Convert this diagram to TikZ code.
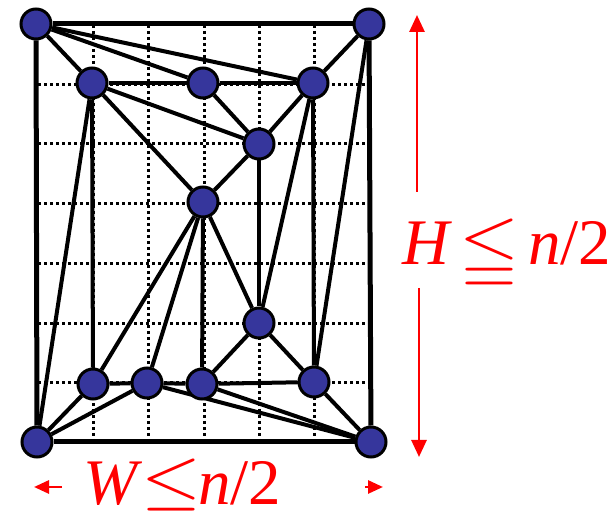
\documentclass[tikz,border=0pt]{standalone}
\usepackage{fontspec}
\newfontfamily\boundfont{Liberation Serif}
\usepackage{amssymb}
\usepackage{graphicx}
\usetikzlibrary{arrows.meta, backgrounds}
\definecolor{vblue}{RGB}{54,54,156}
\tikzset{
  vertex/.style={circle, draw=black, line width=3pt, fill=vblue, minimum size=30pt, inner sep=0pt},
  gridline/.style={line width=3pt, dash pattern=on 3pt off 3pt, draw=black},
  boxedge/.style={line width=5pt, draw=black},
  edge/.style={line width=4pt, draw=black},
  redarr/.style={-{Triangle[length=17pt, width=15pt]}, line width=2.8pt, draw=red},
  smallarr/.style={-{Triangle[length=15pt, width=13pt]}, line width=2.8pt, draw=red},
  bound/.style={text=red, font=\boundfont\fontsize{65}{78}\selectfont, inner sep=0pt, anchor=base west},
}
\newcommand{\lowleqq}{\makebox[35pt][c]{\raisebox{-8pt}{\resizebox*{60pt}{72pt}{$\leqq$}}}}

\begin{document}
\begin{tikzpicture}[x=1pt, y=-1pt]
  \useasboundingbox (0,0) rectangle (614,518);

  % vertices
  \node[vertex] (tl) at (36,24) {};
  \node[vertex] (tr) at (369,24) {};
  \node[vertex] (bl) at (37,442) {};
  \node[vertex] (br) at (371,442) {};
  \node[vertex] (a1) at (92,83) {};
  \node[vertex] (a2) at (203,83) {};
  \node[vertex] (a3) at (313,83) {};
  \node[vertex] (b1) at (259,144) {};
  \node[vertex] (c1) at (203,202) {};
  \node[vertex] (d1) at (259,323) {};
  \node[vertex] (e1) at (93,384) {};
  \node[vertex] (e2) at (147,383) {};
  \node[vertex] (e3) at (202,384) {};
  \node[vertex] (e4) at (314,382) {};

  \begin{scope}[on background layer]
    % dotted grid
    \foreach \gx in {93,148,204,259,314}
      \draw[gridline] (\gx,25) -- (\gx,443);
    \foreach \gy in {85,144,204,264,324,383}
      \draw[gridline] (38,\gy) -- (369,\gy);

    % outer box
    \draw[boxedge] (tl) -- (tr);
    \draw[boxedge] (tl) -- (bl);
    \draw[boxedge] (tr) -- (br);
    \draw[boxedge] (bl) -- (br);

    % inner edges
    \draw[edge] (tl) -- (a1);
    \draw[edge] (tl) -- (a2);
    \draw[edge] (tl) -- (a3);
    \draw[edge] (tr) -- (a3);
    \draw[edge] (tr) -- (e4);
    \draw[edge] (a1) -- (a2);
    \draw[edge] (a2) -- (a3);
    \draw[edge] (a1) -- (b1);
    \draw[edge] (a1) -- (c1);
    \draw[edge] (a1) -- (e1);
    \draw[edge] (a1) -- (bl);
    \draw[edge] (a2) -- (b1);
    \draw[edge] (a3) -- (b1);
    \draw[edge] (a3) -- (d1);
    \draw[edge] (a3) -- (e4);
    \draw[edge] (b1) -- (c1);
    \draw[edge] (b1) -- (d1);
    \draw[edge] (c1) -- (e1);
    \draw[edge] (c1) -- (e2);
    \draw[edge] (c1) -- (e3);
    \draw[edge] (c1) -- (d1);
    \draw[edge] (d1) -- (e3);
    \draw[edge] (d1) -- (e4);
    \draw[edge] (e1) -- (e2);
    \draw[edge] (e2) -- (e3);
    \draw[edge] (e3) -- (e4);
    \draw[edge] (bl) -- (e1);
    \draw[edge] (bl) -- (e2);
    \draw[edge] (e2) -- (br);
    \draw[edge] (e3) -- (br);
    \draw[edge] (e4) -- (br);
  \end{scope}

  % height and width bounds
  \node[bound] (hlab) at (402,265) {\textit{H}\hspace{20pt}\lowleqq\hspace{21pt}\textit{n}/2};
  \node[bound] (wlab) at (83,505) {\textit{W}\hspace{12pt}\lowleqq\hspace{9pt}\textit{n}/2};

  \coordinate (hup) at (417,192);
  \coordinate (hupend) at (417,15);
  \coordinate (hdown) at (419,288);
  \coordinate (hdownend) at (419,457);
  \coordinate (wleft) at (62,487);
  \coordinate (wleftend) at (34,487);
  \coordinate (wright) at (365,487);
  \coordinate (wrightend) at (383,487);

  \draw[redarr] (hup) -- (hupend);
  \draw[redarr] (hdown) -- (hdownend);
  \draw[smallarr] (wleft) -- (wleftend);
  \draw[smallarr] (wright) -- (wrightend);
\end{tikzpicture}
\end{document}
